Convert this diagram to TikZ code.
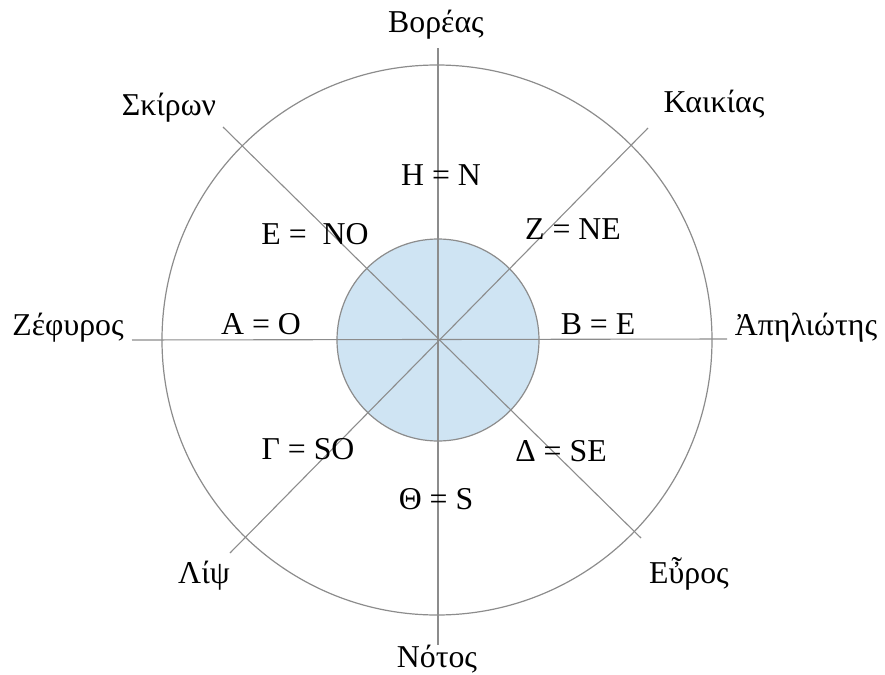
\documentclass[tikz,border=0pt]{standalone}
\usepackage{fontspec}
\setmainfont{Liberation Serif}
\usepackage{xcolor}
\usetikzlibrary{positioning}

\definecolor{rosegray}{HTML}{8C8C8C}
\definecolor{hubblue}{HTML}{CFE4F3}

\begin{document}
\begin{tikzpicture}[
  x=0.5pt, y=-0.5pt,
  every node/.style={font=\fontsize{15.9}{19}\selectfont},
  wind/.style={anchor=base, inner sep=0pt},
  sector/.style={anchor=base, inner sep=0pt},
  ring/.style={circle, draw=rosegray, line width=0.6pt, inner sep=0pt},
  ray/.style={draw=rosegray, line width=0.55pt}
]
  \useasboundingbox (0,0) rectangle (885,675);

  % Centre and ends of the rays
  \coordinate (c) at (438,340);
  \coordinate (rN)  at (438,48);
  \coordinate (rS)  at (438,645);
  \coordinate (rW)  at (132,340);
  \coordinate (rE)  at (727,339);
  \coordinate (rNW) at (223,127);
  \coordinate (rSE) at (641,538);
  \coordinate (rNE) at (648,128);
  \coordinate (rSW) at (230,553);

  % Circles
  \node[ring, minimum size=275pt] (outer) at (437,340) {};
  \node[ring, fill=hubblue, minimum size=101pt] (hub) at (c) {};

  % Rays
  \draw[ray] (rN) -- (rS);
  \draw[ray] (rW) -- (rE);
  \draw[ray] (rNW) -- (rSE);
  \draw[ray] (rNE) -- (rSW);

  % Winds
  \node[wind] (boreas)    at (436,32)  {Βορέας};
  \node[wind] (skiron)    at (169,115) {Σκίρων};
  \node[wind] (kaikias)   at (714,112) {Καικίας};
  \node[wind] (zephyros)  at (68,335)  {Ζέφυρος};
  \node[wind] (apeliotes) at (806,335) {Ἀπηλιώτης};
  \node[wind] (lips)      at (204,583) {Λίψ};
  \node[wind] (euros)     at (689,583) {Εὖρος};
  \node[wind] (notos)     at (437,667) {Νότος};

  % Sectors
  \node[sector] (sN)  at (441,185) {H = N};
  \node[sector] (sNW) at (315,244) {E =~~NO};
  \node[sector] (sNE) at (573,239) {Z = NE};
  \node[sector] (sW)  at (261,334) {A = O};
  \node[sector] (sE)  at (598,334) {B = E};
  \node[sector] (sSW) at (308,459) {Γ = SO};
  \node[sector] (sSE) at (561,461) {Δ = SE};
  \node[sector] (sS)  at (436,509) {Θ = S};
\end{tikzpicture}
\end{document}
